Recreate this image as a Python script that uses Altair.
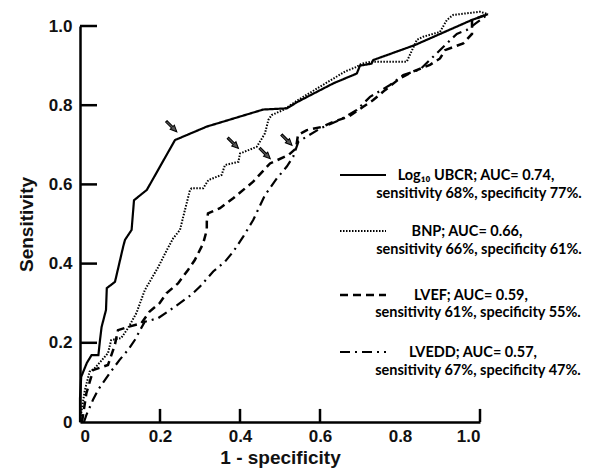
import altair as alt
import pandas as pd

# ---- data ----
ubcr_x = [0, 0, 0.003, 0.017, 0.029, 0.046, 0.05, 0.054, 0.065, 0.067, 0.0875, 0.108, 0.1125, 0.129, 0.135,
          0.146, 0.167, 0.2375, 0.317, 0.458, 0.517, 0.545, 0.633, 0.692, 0.700, 0.729, 0.733, 0.8375, 0.979, 1.02]
ubcr_y = [0, 0.06, 0.114, 0.149, 0.169, 0.169, 0.207, 0.24, 0.283, 0.338, 0.354, 0.443, 0.46, 0.485, 0.56,
          0.569, 0.586, 0.712, 0.746, 0.789, 0.792, 0.809, 0.855, 0.88, 0.9, 0.905, 0.914, 0.952, 1.015, 1.03]

bnp_x = [0, 0.003, 0.012, 0.024, 0.037, 0.07, 0.078, 0.103, 0.12, 0.141, 0.162, 0.196, 0.217, 0.233, 0.25,
         0.258, 0.275, 0.279, 0.308, 0.321, 0.354, 0.3625, 0.396, 0.4, 0.442, 0.4625, 0.471, 0.479, 0.508, 0.545,
         0.6625, 0.692, 0.704, 0.729, 0.817, 0.842, 0.858, 0.9, 0.917, 0.933, 1.0, 1.02]
bnp_y = [0, 0.022, 0.08, 0.127, 0.136, 0.174, 0.207, 0.212, 0.237, 0.275, 0.333, 0.392, 0.434, 0.464, 0.485,
         0.518, 0.586, 0.59, 0.59, 0.611, 0.624, 0.649, 0.657, 0.678, 0.695, 0.729, 0.763, 0.775, 0.788, 0.813,
         0.885, 0.897, 0.905, 0.91, 0.91, 0.965, 0.973, 0.985, 1.015, 1.028, 1.036, 1.03]

lvef_x = [0.005, 0.016, 0.028, 0.0325, 0.07, 0.087, 0.095, 0.12, 0.153, 0.174, 0.199, 0.216, 0.245, 0.27, 0.287,
          0.308, 0.317, 0.317, 0.32, 0.35, 0.383, 0.433, 0.475, 0.521, 0.54, 0.545, 0.567, 0.608, 0.633, 0.671,
          0.708, 0.733, 0.7625, 0.8, 0.833, 0.875, 0.9, 0.9125, 0.958, 0.98, 0.98, 1.02]
lvef_y = [0, 0.073, 0.114, 0.131, 0.144, 0.194, 0.232, 0.24, 0.249, 0.279, 0.3, 0.325, 0.35, 0.384, 0.409,
          0.451, 0.485, 0.506, 0.527, 0.54, 0.565, 0.607, 0.653, 0.674, 0.691, 0.725, 0.737, 0.746, 0.758, 0.771,
          0.796, 0.813, 0.838, 0.868, 0.885, 0.902, 0.918, 0.939, 0.956, 0.98, 1.015, 1.03]

lvedd_x = [0.01, 0.016, 0.0325, 0.045, 0.074, 0.099, 0.12, 0.137, 0.153, 0.162, 0.195, 0.237, 0.278, 0.3, 0.333,
           0.3625, 0.383, 0.408, 0.433, 0.4625, 0.492, 0.517, 0.533, 0.546, 0.6, 0.65, 0.692, 0.725, 0.775, 0.808,
           0.85, 0.908, 0.942, 0.967, 0.99, 1.02]
lvedd_y = [0, 0.018, 0.056, 0.081, 0.123, 0.157, 0.182, 0.207, 0.237, 0.253, 0.262, 0.291, 0.321, 0.342, 0.380,
           0.405, 0.43, 0.468, 0.51, 0.573, 0.615, 0.645, 0.67, 0.708, 0.741, 0.763, 0.788, 0.821, 0.851, 0.876,
           0.89, 0.947, 0.98, 0.99, 1.007, 1.03]

arrow_x = [0.229, 0.383, 0.4625, 0.517]
arrow_y = [0.746, 0.704, 0.678, 0.712]

tick_values = [0, 0.2, 0.4, 0.6, 0.8, 1.0]
y_tick_marks = [0.2, 0.4, 0.6, 0.8, 1.0]
x_tick_marks = [0.2, 0.4, 0.6, 1.0]

legend_line1 = ["Log\u2081\u2080 UBCR; AUC= 0.74,", "BNP; AUC= 0.66,", "LVEF; AUC= 0.59,", "LVEDD; AUC= 0.57,"]
legend_line2 = ["sensitivity 68%, specificity 77%.", "sensitivity 66%, specificity 61%.",
                "sensitivity 61%, specificity 55%.", "sensitivity 67%, specificity 47%."]

# ---- layout (pixels) ----
W, H = 400, 396
OX, OY = 80, 26  # page position of plot origin
leg_line_y = [175, 231, 295, 352]
leg_line1_cx = [476, 467, 471, 473]
leg_line2_y = [194, 250, 313, 371]
leg_line2_cx = [479, 479, 478, 478]
dashes = [[1, 0], [1.5, 1.5], [8, 5], [10, 5, 2, 5]]
widths = [2.2, 2.0, 2.5, 2.2]

xs = alt.Scale(domain=[0, 1], nice=False)
ys = alt.Scale(domain=[0, 1], nice=False)

label_expr = "datum.value == 0 ? '0' : format(datum.value, '.1f')"

common_axis = dict(values=tick_values, labelExpr=label_expr, grid=False, ticks=False,
                   domainWidth=2.5, domainColor="black", labelFontSize=17, labelFont="Liberation Sans",
                   labelFontWeight="bold", labelColor="#111", titleFont="Liberation Sans",
                   titleFontSize=19, titleFontWeight="bold", titleColor="#111")

series = [(ubcr_x, ubcr_y), (bnp_x, bnp_y), (lvef_x, lvef_y), (lvedd_x, lvedd_y)]
layers = []
for k, (sx, sy) in enumerate(series):
    df = pd.DataFrame({"x": sx, "y": sy, "i": range(len(sx))})
    if k == 0:
        xe = alt.X("x:Q", scale=xs, axis=alt.Axis(title="1 - specificity", labelPadding=6,
                                                  titlePadding=4, **common_axis))
        ye = alt.Y("y:Q", scale=ys, axis=alt.Axis(title="Sensitivity", labelPadding=8,
                                                  titlePadding=12, **common_axis))
    else:
        xe = alt.X("x:Q", scale=xs)
        ye = alt.Y("y:Q", scale=ys)
    layers.append(
        alt.Chart(df).mark_line(color="black", strokeWidth=widths[k], strokeDash=dashes[k],
                                clip=False).encode(x=xe, y=ye, order=alt.Order("i:Q"))
    )

# inner ticks
ytk = pd.DataFrame({"v": y_tick_marks})
layers.append(alt.Chart(ytk).mark_rule(color="black", strokeWidth=2.5).encode(
    y=alt.Y("v:Q", scale=ys), x=alt.datum(0, scale=xs), x2=alt.datum(0.0425)))
xtk = pd.DataFrame({"v": x_tick_marks})
layers.append(alt.Chart(xtk).mark_rule(color="black", strokeWidth=2.5).encode(
    x=alt.X("v:Q", scale=xs), y=alt.datum(0, scale=ys), y2=alt.datum(0.033)))

# arrows
adf = pd.DataFrame({"x": arrow_x, "y": arrow_y})
layers.append(alt.Chart(adf).mark_point(shape="arrow", angle=135, size=220, filled=True,
                                        fill="#555", stroke="black", strokeWidth=1, opacity=1).encode(
    x=alt.X("x:Q", scale=xs), y=alt.Y("y:Q", scale=ys)))

# legend
for k in range(4):
    layers.append(alt.Chart(pd.DataFrame({"a": [0]})).mark_rule(
        color="black", strokeWidth=widths[k], strokeDash=dashes[k]).encode(
        x=alt.value(340 - OX), x2=alt.value(386 - OX), y=alt.value(leg_line_y[k] - OY)))
    layers.append(alt.Chart(pd.DataFrame({"t": [legend_line1[k]]})).mark_text(
        font="Lato", fontWeight="bold", fontSize=14.5, color="#000", align="center", baseline="middle").encode(
        text="t:N", x=alt.value(leg_line1_cx[k] - OX), y=alt.value(leg_line_y[k] - OY + 1)))
    layers.append(alt.Chart(pd.DataFrame({"t": [legend_line2[k]]})).mark_text(
        font="Lato", fontWeight="bold", fontSize=14.5, color="#000", align="center", baseline="middle").encode(
        text="t:N", x=alt.value(leg_line2_cx[k] - OX), y=alt.value(leg_line2_y[k] - OY)))

chart = alt.layer(*layers).properties(
    width=W, height=H,
    autosize=alt.AutoSizeParams(type="none"),
    padding={"left": 72, "top": 18, "right": 107, "bottom": 50},
).configure(background="white").configure_view(stroke=None)

chart.save("out.html", embed_options={"renderer": "svg", "actions": False})
